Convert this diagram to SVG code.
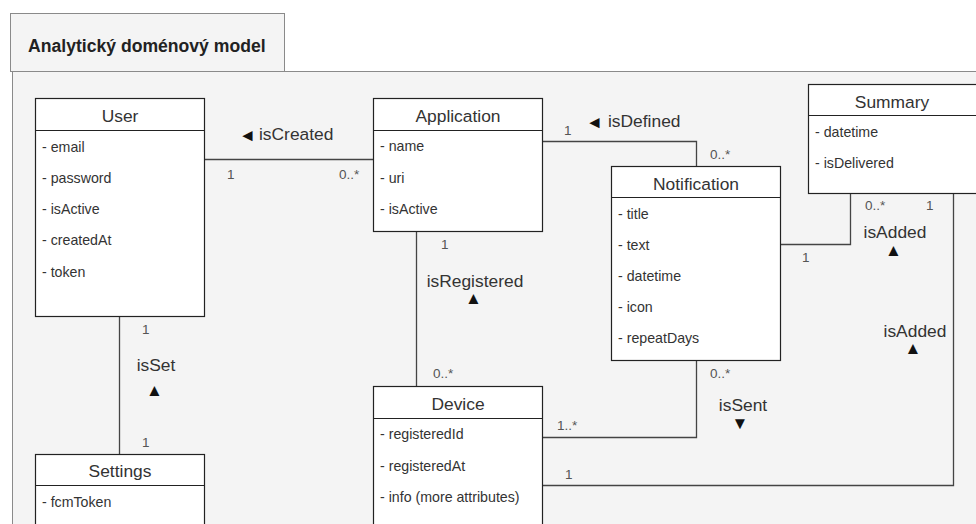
<svg xmlns="http://www.w3.org/2000/svg" width="976" height="524" viewBox="0 0 976 524">
<style>
text{font-family:"Liberation Sans","DejaVu Sans",sans-serif;fill:#333}
.frame{fill:#f4f4f4;stroke:#8a8a8a;stroke-width:1}
.box{fill:#fff;stroke:#222;stroke-width:1.2}
.div{stroke:#222;stroke-width:1.2}
.ttl{font-size:17.4px;text-anchor:middle}
.att{font-size:14.2px}
.mul{font-size:13.5px;fill:#555}
.lbl{font-size:17.4px}
.sym{font-size:17px;fill:#111}
.conn path{fill:none;stroke:#444;stroke-width:1.3}
</style>
<rect width="976" height="524" fill="#fff"/>
<g id="frame">
<rect class="frame" x="12.5" y="71.5" width="980" height="470"/>
<rect class="frame" x="10.5" y="13.5" width="274" height="58"/>
<text x="28" y="52" style="font-size:17.6px;font-weight:bold;fill:#222">Analytický doménový model</text>
</g>
<g class="conn" id="connectors">
<path d="M204 159.5H373"/>
<path d="M542 141.5H696.5V166"/>
<path d="M780 244.5H850.5V193"/>
<path d="M953.5 193V485.5H542"/>
<path d="M416.5 231V386"/>
<path d="M542 437.5H696.5V360"/>
<path d="M119.5 316V454"/>
</g>
<g id="labels">
<text class="lbl" y="140"><tspan class="sym" x="239" y="140.5">◄</tspan><tspan x="259" y="140">isCreated</tspan></text>
<text class="mul" x="227" y="179">1</text>
<text class="mul" x="339" y="179">0..*</text>
<text class="mul" x="564" y="135">1</text>
<text class="lbl" y="127"><tspan class="sym" x="586" y="127.5">◄</tspan><tspan x="608" y="127">isDefined</tspan></text>
<text class="mul" x="710" y="159">0..*</text>
<text class="mul" x="802" y="262">1</text>
<text class="mul" x="865" y="210">0..*</text>
<text class="mul" x="926" y="210">1</text>
<text class="lbl" text-anchor="middle"><tspan x="895" y="238">isAdded</tspan><tspan class="sym" x="893.5" y="256">▲</tspan></text>
<text class="lbl" text-anchor="middle"><tspan x="915" y="337">isAdded</tspan><tspan class="sym" x="913" y="354">▲</tspan></text>
<text class="mul" x="441" y="249">1</text>
<text class="lbl" text-anchor="middle"><tspan x="475" y="287">isRegistered</tspan><tspan class="sym" x="473.5" y="304">▲</tspan></text>
<text class="mul" x="433" y="378">0..*</text>
<text class="mul" x="557" y="430">1..*</text>
<text class="mul" x="710" y="378">0..*</text>
<text class="lbl" text-anchor="middle"><tspan x="743" y="411">isSent</tspan><tspan class="sym" x="740" y="429">▼</tspan></text>
<text class="mul" x="565" y="479">1</text>
<text class="mul" x="142" y="334">1</text>
<text class="lbl" text-anchor="middle"><tspan x="156" y="371">isSet</tspan><tspan class="sym" x="154.5" y="396">▲</tspan></text>
<text class="mul" x="142" y="447">1</text>
</g>
<g id="user">
<rect class="box" x="35.5" y="98.5" width="169" height="218"/>
<path class="div" d="M35.5 130.5H204.5"/>
<text class="ttl" x="120" y="122">User</text>
<text class="att" x="42" y="151.5">- email</text>
<text class="att" x="42" y="182.8">- password</text>
<text class="att" x="42" y="214">- isActive</text>
<text class="att" x="42" y="245.3">- createdAt</text>
<text class="att" x="42" y="276.6">- token</text>
</g>
<g id="application">
<rect class="box" x="373.5" y="98.5" width="169" height="133"/>
<path class="div" d="M373.5 130.5H542.5"/>
<text class="ttl" x="458" y="122">Application</text>
<text class="att" x="380" y="151.3">- name</text>
<text class="att" x="380" y="182.5">- uri</text>
<text class="att" x="380" y="213.7">- isActive</text>
</g>
<g id="notification">
<rect class="box" x="611.5" y="166.5" width="169" height="194"/>
<path class="div" d="M611.5 197.5H780.5"/>
<text class="ttl" x="696" y="190">Notification</text>
<text class="att" x="618" y="218.5">- title</text>
<text class="att" x="618" y="249.7">- text</text>
<text class="att" x="618" y="280.9">- datetime</text>
<text class="att" x="618" y="312.1">- icon</text>
<text class="att" x="618" y="343.3">- repeatDays</text>
</g>
<g id="summary">
<rect class="box" x="808.5" y="84.5" width="169" height="109"/>
<path class="div" d="M808.5 115.5H977"/>
<text class="ttl" x="892" y="108">Summary</text>
<text class="att" x="815" y="136.5">- datetime</text>
<text class="att" x="815" y="167.7">- isDelivered</text>
</g>
<g id="device">
<rect class="box" x="373.5" y="386.5" width="169" height="160"/>
<path class="div" d="M373.5 418.5H542.5"/>
<text class="ttl" x="458" y="410">Device</text>
<text class="att" x="380" y="439.3">- registeredId</text>
<text class="att" x="380" y="470.5">- registeredAt</text>
<text class="att" x="380" y="501.7">- info (more attributes)</text>
</g>
<g id="settings">
<rect class="box" x="35.5" y="454.5" width="169" height="100"/>
<path class="div" d="M35.5 485.5H204.5"/>
<text class="ttl" x="120" y="477">Settings</text>
<text class="att" x="42" y="506.5">- fcmToken</text>
</g>
</svg>
